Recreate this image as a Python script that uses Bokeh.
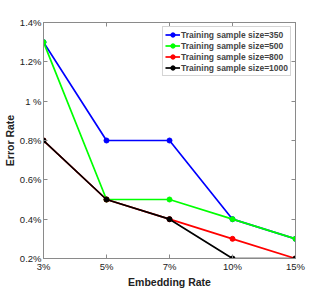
from bokeh.plotting import figure
from bokeh.models import FixedTicker, LinearAxis, Legend, LegendItem, Range1d
from bokeh.embed import file_html
from bokeh.resources import INLINE

x_labels = ["3%", "5%", "7%", "10%", "15%"]
x_pos = [1, 2, 3, 4, 5]
y_ticks = [0.2, 0.4, 0.6, 0.8, 1.0, 1.2, 1.4]
y_tick_labels = ["0.2%", "0.4%", "0.6%", "0.8%", "1 %", "1.2%", "1.4%"]

series_names = ["Training sample size=350", "Training sample size=500",
                "Training sample size=800", "Training sample size=1000"]
s350 = [1.3, 0.8, 0.8, 0.4, 0.3]
s500 = [1.3, 0.5, 0.5, 0.4, 0.3]
s800 = [0.8, 0.5, 0.4, 0.3, 0.2]
s1000 = [0.8, 0.5, 0.4, 0.2, 0.2]
colors = ["#0000ff", "#00ff00", "#ff0000", "#000000"]

FONT = "Liberation Sans"
AX = "#8a8a8a"

p = figure(width=327, height=291, output_backend="svg", toolbar_location=None,
           x_range=Range1d(1, 5), y_range=Range1d(0.2, 1.4),
           min_border_left=0, min_border_right=32, min_border_top=22, min_border_bottom=33)
p.xgrid.visible = False
p.ygrid.visible = False
p.outline_line_color = AX
p.background_fill_color = "white"
p.border_fill_color = "white"

p.xaxis.ticker = FixedTicker(ticks=x_pos)
p.xaxis.major_label_overrides = {k: v for k, v in zip(x_pos, x_labels)}
p.yaxis.ticker = FixedTicker(ticks=y_ticks)
p.yaxis.major_label_overrides = {k: v for k, v in zip(y_ticks, y_tick_labels)}

for ax in [p.xaxis[0], p.yaxis[0]]:
    ax.axis_line_color = AX
    ax.major_tick_line_color = AX
    ax.major_tick_in = 4
    ax.major_tick_out = 0
    ax.minor_tick_line_color = None
    ax.major_label_text_font = FONT
    ax.major_label_text_font_size = "9.5px"
    ax.major_label_text_color = "#222222"
    ax.major_label_standoff = 2
    ax.axis_label_text_font = FONT
    ax.axis_label_text_font_size = "10.5px"
    ax.axis_label_text_font_style = "bold"
    ax.axis_label_text_color = "#222222"
    ax.axis_label_standoff = 1

p.xaxis.axis_label = "Embedding Rate"
p.yaxis.axis_label = "Error Rate"

top = LinearAxis(ticker=FixedTicker(ticks=x_pos),
                 major_label_overrides={k: "" for k in x_pos},
                 axis_line_color=AX, major_tick_line_color=AX, major_tick_in=4,
                 major_tick_out=0, minor_tick_line_color=None, major_label_standoff=0)
right = LinearAxis(ticker=FixedTicker(ticks=y_ticks),
                   major_label_overrides={k: "" for k in y_ticks},
                   axis_line_color=AX, major_tick_line_color=AX, major_tick_in=4,
                   major_tick_out=0, minor_tick_line_color=None, major_label_standoff=0)
p.add_layout(top, "above")
p.add_layout(right, "right")

items = []
for name, ys, c in zip(series_names, [s350, s500, s800, s1000], colors):
    l = p.line(x_pos, ys, line_color=c, line_width=1.7)
    s = p.scatter(x_pos, ys, size=5, fill_color=c, line_color=c)
    items.append(LegendItem(label=name, renderers=[l, s]))

legend = Legend(items=items, location="top_right", margin=4, padding=2, spacing=0,
                label_text_font=FONT, label_text_font_size="8.5px", label_text_font_style="bold",
                label_height=11, glyph_height=11, glyph_width=15, label_standoff=1,
                border_line_color="#aaaaaa", border_line_width=1, background_fill_alpha=1)
p.add_layout(legend)

open("out.html", "w").write(file_html(p, INLINE))
